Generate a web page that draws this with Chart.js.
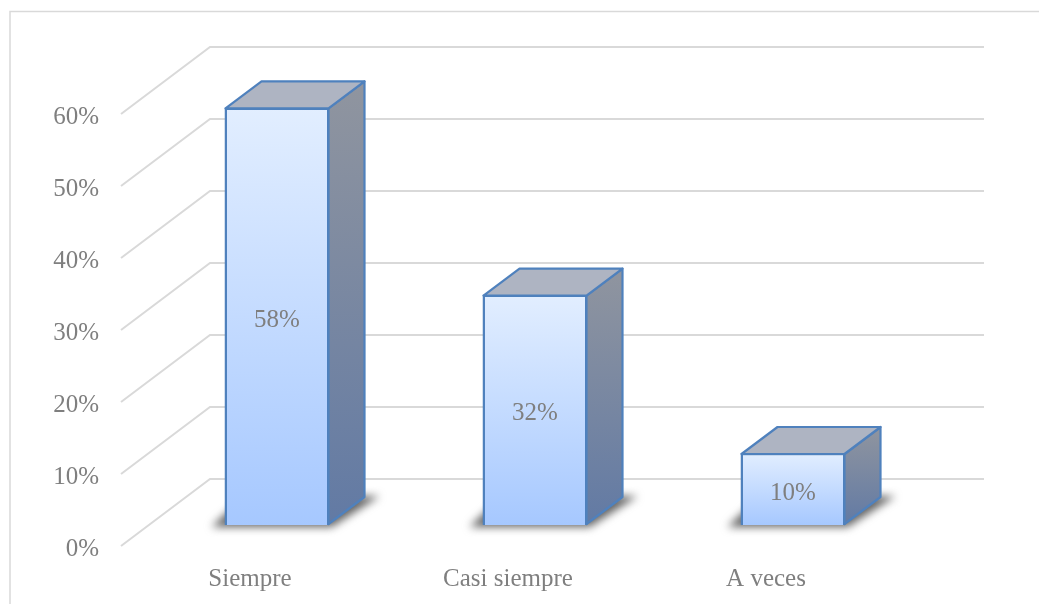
<!DOCTYPE html>
<html><head><meta charset="utf-8">
<style>html,body{margin:0;padding:0;background:#fff}#w{width:1039px;height:604px}</style>
<script src="https://cdn.jsdelivr.net/npm/chart.js@4"></script>
</head><body><div id="w"><canvas id="c" width="1039" height="604"></canvas></div>
<script>
const categories = ['Siempre', 'Casi siempre', 'A veces'];
const values = [58, 32, 10];
const yTickStep = 10;
const yMax = 60;

const FONT = {family: '"Liberation Serif"', size: 25};
const TEXT = '#7f7f7f', GRID = '#d9d9d9', EDGE = '#4f81bd';
const AXIS_DY = -3;                  // tick labels sit slightly below their grid plane
const WALL = {dx: 89, dy: -67};      // back wall offset from the front axis plane
const BAR = {dx: 27, dy: -24};       // plane of the bars' front faces
const DEPTH = {dx: 36, dy: -27};     // bar depth

const depthPlugin = {
  id: 'depth',
  beforeDatasetsDraw(chart) {
    const {ctx, scales: {x, y}} = chart;
    ctx.save();
    // frame
    ctx.strokeStyle = GRID; ctx.lineWidth = 1.5;
    ctx.beginPath(); ctx.moveTo(10, 604); ctx.lineTo(10, 11.5); ctx.lineTo(1039, 11.5); ctx.stroke();
    // wall and side wall
    ctx.lineWidth = 2;
    for (let v = 0; v <= yMax; v += yTickStep) {
      const p = y.getPixelForValue(v) + AXIS_DY;
      ctx.beginPath();
      ctx.moveTo(x.left, p);
      ctx.lineTo(x.left + WALL.dx, p + WALL.dy);
      ctx.lineTo(x.right + WALL.dx, p + WALL.dy);
      ctx.stroke();
    }
    // floor shadows
    const meta = chart.getDatasetMeta(0);
    const base = y.getPixelForValue(0) + BAR.dy;
    ctx.filter = 'blur(4px)';
    ctx.fillStyle = '#636363';
    meta.data.forEach(b => {
      const l = b.x - b.width / 2 + BAR.dx, r = b.x + b.width / 2 + BAR.dx;
      ctx.beginPath();
      ctx.moveTo(l - 13, base + 2);
      ctx.lineTo(r + 2, base + 2);
      ctx.lineTo(r + DEPTH.dx + 14, base + DEPTH.dy - 2);
      ctx.lineTo(l + 20, base + DEPTH.dy - 2);
      ctx.closePath(); ctx.fill();
    });
    ctx.filter = 'none';
    ctx.restore();
    ctx.save();
    ctx.translate(BAR.dx, BAR.dy);
  },
  afterDatasetsDraw(chart) {
    const {ctx, scales: {y}} = chart;
    ctx.restore();
    const meta = chart.getDatasetMeta(0);
    const base = y.getPixelForValue(0) + BAR.dy;
    ctx.save();
    meta.data.forEach((b, i) => {
      const l = b.x - b.width / 2 + BAR.dx + 1, r = b.x + b.width / 2 + BAR.dx - 1;
      const t = b.y + BAR.dy + 1, bt = base - 1;
      ctx.lineWidth = 2.2; ctx.strokeStyle = EDGE; ctx.lineJoin = 'round';
      const g = ctx.createLinearGradient(0, t + DEPTH.dy, 0, bt);
      g.addColorStop(0, '#90959f'); g.addColorStop(1, '#627aa4');
      ctx.fillStyle = g;
      ctx.beginPath();
      ctx.moveTo(r, t); ctx.lineTo(r + DEPTH.dx, t + DEPTH.dy);
      ctx.lineTo(r + DEPTH.dx, bt + DEPTH.dy); ctx.lineTo(r, bt); ctx.closePath();
      ctx.fill(); ctx.stroke();
      ctx.fillStyle = '#aeb4c2';
      ctx.beginPath();
      ctx.moveTo(l, t); ctx.lineTo(l + DEPTH.dx, t + DEPTH.dy);
      ctx.lineTo(r + DEPTH.dx, t + DEPTH.dy); ctx.lineTo(r, t); ctx.closePath();
      ctx.fill(); ctx.stroke();
      ctx.fillStyle = TEXT;
      ctx.font = FONT.size + 'px ' + FONT.family;
      ctx.textAlign = 'center'; ctx.textBaseline = 'middle';
      ctx.fillText(values[i] + '%', (l + r) / 2, (t + bt) / 2 + 4);
    });
    ctx.restore();
  }
};

new Chart(document.getElementById('c'), {
  type: 'bar',
  data: {
    labels: categories,
    datasets: [{
      data: values,
      clip: false,
      barPercentage: 0.407,
      categoryPercentage: 1,
      borderColor: EDGE,
      borderWidth: 2.5,
      backgroundColor(ctx) {
        const s = ctx.chart.scales.y;
        const top = s ? s.getPixelForValue(values[ctx.dataIndex]) : NaN;
        const bottom = s ? s.getPixelForValue(0) : NaN;
        if (!isFinite(top) || !isFinite(bottom)) return '#c0d8ff';
        const g = ctx.chart.ctx.createLinearGradient(0, top, 0, bottom);
        g.addColorStop(0, '#e2eeff'); g.addColorStop(1, '#a6c8ff');
        return g;
      }
    }]
  },
  options: {
    responsive: false,
    animation: false,
    layout: {padding: {left: 0, right: 144, top: 117, bottom: 0}},
    plugins: {legend: {display: false}, tooltip: {enabled: false}},
    scales: {
      x: {
        grid: {display: false}, border: {display: false},
        ticks: {color: TEXT, font: FONT, padding: 7, maxRotation: 0},
        afterFit(s) { s.height = 55; }
      },
      y: {
        min: 0, max: yMax,
        grid: {display: false}, border: {display: false},
        ticks: {stepSize: yTickStep, color: TEXT, font: FONT, padding: 14, callback: v => v + '%'},
        afterFit(s) { s.width = 121; }
      }
    }
  },
  plugins: [depthPlugin]
});
</script></body></html>
